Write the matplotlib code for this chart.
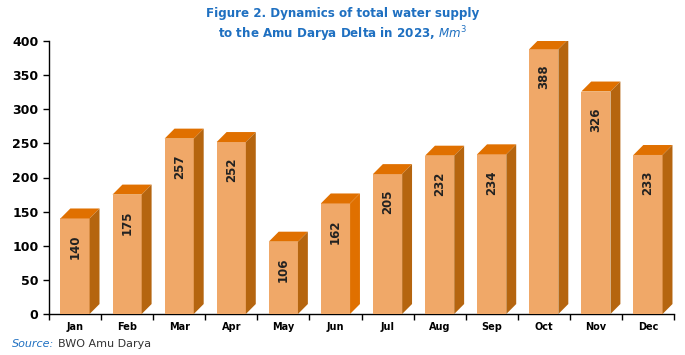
import matplotlib
matplotlib.use("Agg")
import matplotlib.pyplot as plt
from matplotlib.patches import Polygon

months = ["Jan", "Feb", "Mar", "Apr", "May", "Jun", "Jul", "Aug", "Sep", "Oct", "Nov", "Dec"]
supply = [140, 175, 257, 252, 106, 162, 205, 232, 234, 388, 326, 233]

front_col = "#F0A868"
top_col = "#E07000"
side_col = "#B5650F"
title_col = "#1F70C1"

fig = plt.figure(figsize=(6.85, 3.55), dpi=100)
ax = fig.add_axes([0.0715, 0.1155, 0.9125, 0.769])

x = list(range(len(months)))
w = 0.56
dx = 0.19      # depth in category units (~10 px)
dy = 14.6      # depth in data units (~10 px)

ax.bar(x, supply, width=w, color=front_col, zorder=3)
for i, v in zip(x, supply):
    l, r = i - w / 2, i + w / 2
    top = Polygon([(l, v), (r, v), (r + dx, v + dy), (l + dx, v + dy)],
                  closed=True, facecolor=top_col, edgecolor="none", zorder=3)
    sc = top_col if months[i] == "Jun" else side_col
    side = Polygon([(r, 0), (r + dx, dy), (r + dx, v + dy), (r, v)],
                   closed=True, facecolor=sc, edgecolor="none", zorder=3)
    ax.add_patch(top)
    ax.add_patch(side)
    ax.text(i, v - 41, str(v), rotation=90, ha="center", va="center",
            fontsize=8.5, fontweight="bold", color="#222222", zorder=4)

ax.set_xlim(-0.5, len(months) - 0.5)
ax.set_ylim(0, 400)
ax.set_yticks(range(0, 401, 50))
ax.tick_params(axis="y", labelsize=9, length=4, width=1)
for t in ax.get_yticklabels():
    t.set_fontweight("bold")

ax.set_xticks(x)
ax.set_xticklabels(months, fontsize=7, fontweight="bold")
ax.set_xticks([i + 0.5 for i in range(-1, len(months))], minor=True)
ax.tick_params(axis="x", which="major", length=0, pad=6)
ax.tick_params(axis="x", which="minor", length=4, width=1)

for s in ["top", "right"]:
    ax.spines[s].set_visible(False)
ax.spines["left"].set_linewidth(1)
ax.spines["bottom"].set_linewidth(1)

fig.text(0.5, 0.98, "Figure 2. Dynamics of total water supply", ha="center", va="top",
         fontsize=8.6, fontweight="bold", color=title_col)
fig.text(0.5, 0.932, "to the Amu Darya Delta in 2023, $\\mathit{Mm^3}$", ha="center", va="top",
         fontsize=8.6, fontweight="bold", color=title_col)

fig.text(0.017, 0.032, "Source:", ha="left", va="center", fontsize=8, style="italic", color=title_col)
fig.text(0.084, 0.032, "BWO Amu Darya", ha="left", va="center", fontsize=8, color="#333333")

fig.savefig("out.png", dpi=100)
